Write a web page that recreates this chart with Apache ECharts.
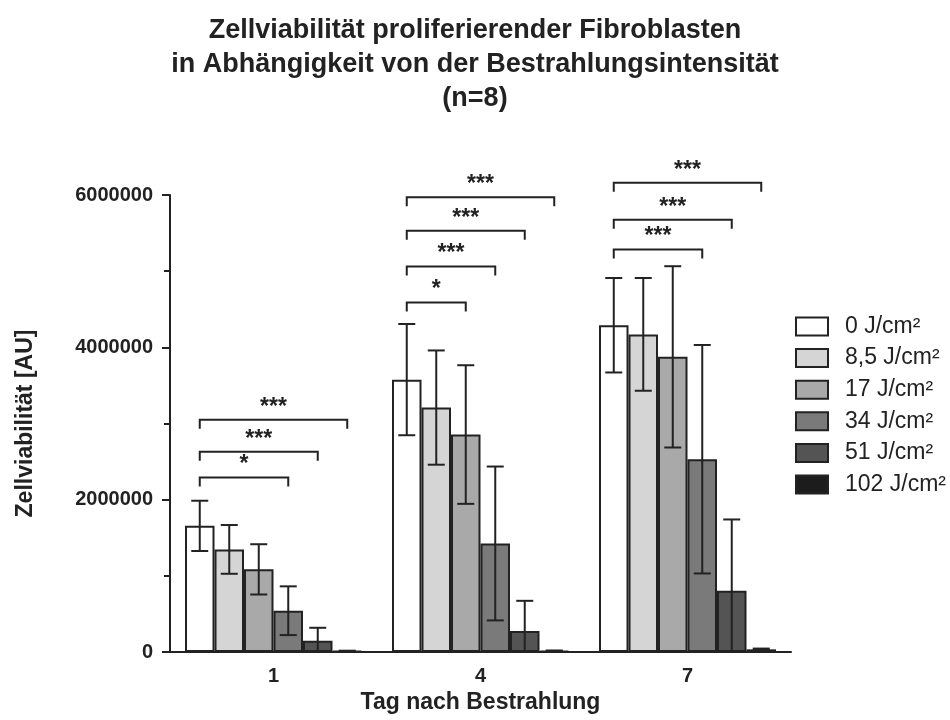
<!DOCTYPE html>
<html>
<head>
<meta charset="utf-8">
<script src="https://cdn.jsdelivr.net/npm/echarts@6/dist/echarts.min.js"></script>
<style>
  html, body { margin: 0; padding: 0; background: #ffffff; }
  #chart { width: 950px; height: 720px; }
</style>
</head>
<body>
<div id="chart"></div>
<script>
// Days after irradiation (categories) and irradiation doses (series)
const days = ['1', '4', '7'];
const doses = ['0 J/cm²', '8,5 J/cm²', '17 J/cm²', '34 J/cm²', '51 J/cm²', '102 J/cm²'];

// Mean cell viability [AU] per dose, one value per day
const mean0   = [1656000, 3576000, 4290000];
const mean8_5 = [1347000, 3209000, 4170000];
const mean17  = [1085000, 2855000, 3875000];
const mean34  = [542000, 1425000, 2531000];
const mean51  = [148000, 277000, 804000];
const mean102 = [12000, 15000, 35000];

// Standard deviation per dose, one value per day
const sd0   = [330000, 730000, 620000];
const sd8_5 = [320000, 750000, 740000];
const sd17  = [330000, 910000, 1190000];
const sd34  = [320000, 1010000, 1500000];
const sd51  = [170000, 395000, 936000];
const sd102 = [5000, 5000, 10000];

// Y axis ticks
const yTicks = [0, 2000000, 4000000, 6000000];

// Significance brackets: day index, compared dose index (vs. 0 J/cm²), bracket level [AU], label
const sigDay   = [0, 0, 0, 1, 1, 1, 1, 2, 2, 2];
const sigDose  = [3, 4, 5, 2, 3, 4, 5, 3, 4, 5];
const sigLevel = [2290000, 2630000, 3050000, 4590000, 5060000, 5530000, 5970000, 5285000, 5675000, 6160000];
const sigLabel = ['*', '***', '***', '*', '***', '***', '***', '***', '***', '***'];

const means = [mean0, mean8_5, mean17, mean34, mean51, mean102];
const sds = [sd0, sd8_5, sd17, sd34, sd51, sd102];
const fills = ['#ffffff', '#d5d5d5', '#a9a9a9', '#7a7a7a', '#545454', '#1c1c1c'];
const INK = '#222222';
const FONT = '"Liberation Sans", Arial, Helvetica, sans-serif';
const CAT_GAP = 0.145;

// Centre of the bar for a given day and dose, in pixels
function barCenter(api, day, dose) {
  const band = api.size([1, 0])[0];
  const bw = band * (1 - CAT_GAP) / doses.length;
  return api.coord([day, 0])[0] + (dose - (doses.length - 1) / 2) * bw;
}

const barSeries = doses.map((name, i) => ({
  name: name,
  type: 'bar',
  data: means[i],
  barGap: '0%',
  barCategoryGap: (CAT_GAP * 100) + '%',
  itemStyle: { color: fills[i], borderColor: INK, borderWidth: 2 },
  emphasis: { disabled: true },
  z: 2
}));

const errData = [];
doses.forEach((d, i) => {
  days.forEach((day, j) => {
    errData.push([j, i, means[i][j], sds[i][j]]);
  });
});

const errorSeries = {
  type: 'custom',
  name: 'SD',
  data: errData,
  encode: { x: 0, y: 2 },
  z: 5,
  silent: true,
  renderItem: function (params, api) {
    const day = api.value(0), dose = api.value(1);
    const m = api.value(2), s = api.value(3);
    const x = barCenter(api, day, dose);
    const lowVal = Math.max(0, m - s);
    const yHi = api.coord([day, m + s])[1];
    const yLo = api.coord([day, lowVal])[1];
    const cap = 8.5;
    const style = { stroke: INK, lineWidth: 2, fill: null };
    const children = [
      { type: 'line', shape: { x1: x, y1: yHi, x2: x, y2: yLo }, style: style },
      { type: 'line', shape: { x1: x - cap, y1: yHi, x2: x + cap, y2: yHi }, style: style }
    ];
    if (lowVal > 0) {
      children.push({ type: 'line', shape: { x1: x - cap, y1: yLo, x2: x + cap, y2: yLo }, style: style });
    }
    return { type: 'group', children: children };
  }
};

const sigData = sigDay.map((d, k) => [d, sigDose[k], sigLevel[k], k]);

const bracketSeries = {
  type: 'custom',
  name: 'Signifikanz',
  data: sigData,
  encode: { x: 0, y: 2 },
  z: 6,
  clip: false,
  silent: true,
  renderItem: function (params, api) {
    const day = api.value(0), dose = api.value(1);
    const k = api.value(3);
    const x1 = barCenter(api, day, 0);
    const x2 = barCenter(api, day, dose);
    const y = api.coord([day, api.value(2)])[1];
    const drop = 9;
    return {
      type: 'group',
      children: [
        {
          type: 'polyline',
          shape: { points: [[x1, y + drop], [x1, y], [x2, y], [x2, y + drop]] },
          style: { stroke: INK, lineWidth: 2, fill: null }
        },
        {
          type: 'text',
          style: {
            x: (x1 + x2) / 2, y: y - 1,
            text: sigLabel[k],
            fill: INK,
            font: 'bold 23px ' + FONT,
            align: 'center',
            verticalAlign: 'bottom'
          }
        }
      ]
    };
  }
};

const chart = echarts.init(document.getElementById('chart'), null, { renderer: 'canvas' });

chart.setOption({
  backgroundColor: '#ffffff',
  animation: false,
  textStyle: { fontFamily: FONT },
  title: {
    text: 'Zellviabilität proliferierender Fibroblasten\nin Abhängigkeit von der Bestrahlungsintensität\n(n=8)',
    left: 'center',
    top: 14,
    padding: 0,
    textStyle: {
      fontFamily: FONT,
      fontSize: 27,
      fontWeight: 'bold',
      lineHeight: 34,
      color: INK
    }
  },
  legend: {
    data: doses,
    orient: 'vertical',
    left: 790,
    top: 310,
    itemWidth: 32,
    itemHeight: 18,
    itemGap: 8.6,
    icon: 'rect',
    selectedMode: false,
    textStyle: { fontFamily: FONT, fontSize: 23, color: INK, padding: [0, 0, 0, 12] }
  },
  grid: { left: 170, right: 159, top: 195, bottom: 68, containLabel: false },
  xAxis: {
    type: 'category',
    data: days,
    name: 'Tag nach Bestrahlung',
    nameLocation: 'middle',
    nameGap: 35,
    nameTextStyle: { fontFamily: FONT, fontSize: 23, fontWeight: 'bold', color: INK },
    axisLine: { lineStyle: { color: INK, width: 2 } },
    axisTick: { show: false },
    axisLabel: { fontFamily: FONT, fontSize: 20, fontWeight: 'bold', color: INK, margin: 14 },
    splitLine: { show: false }
  },
  yAxis: {
    type: 'value',
    min: yTicks[0],
    max: yTicks[yTicks.length - 1],
    interval: yTicks[1] - yTicks[0],
    name: 'Zellviabilität [AU]',
    nameLocation: 'middle',
    nameGap: 133,
    nameTextStyle: { fontFamily: FONT, fontSize: 23, fontWeight: 'bold', color: INK },
    axisLine: { show: true, lineStyle: { color: INK, width: 2 } },
    axisTick: { show: true, length: 8, lineStyle: { color: INK, width: 2 } },
    minorTick: { show: true, splitNumber: 2, length: 6, lineStyle: { color: INK, width: 2 } },
    axisLabel: {
      fontFamily: FONT, fontSize: 20, fontWeight: 'bold', color: INK, margin: 17,
      formatter: v => String(v)
    },
    splitLine: { show: false },
    minorSplitLine: { show: false }
  },
  series: barSeries.concat([errorSeries, bracketSeries])
});
</script>
</body>
</html>
